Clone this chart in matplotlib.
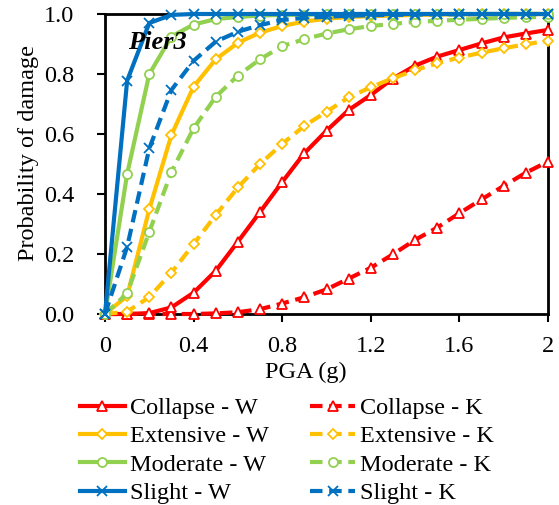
import matplotlib
matplotlib.use("Agg")
import matplotlib.pyplot as plt

plt.rcParams['font.family'] = ['Liberation Serif', 'DejaVu Serif']

pga = [0.0, 0.1, 0.2, 0.3, 0.4, 0.5, 0.6, 0.7, 0.8, 0.9, 1.0,
       1.1, 1.2, 1.3, 1.4, 1.5, 1.6, 1.7, 1.8, 1.9, 2.0]

collapse_w = [0.0, 0.0, 0.003, 0.022, 0.071, 0.144, 0.241, 0.34, 0.44, 0.536, 0.611,
              0.68, 0.73, 0.785, 0.828, 0.858, 0.88, 0.902, 0.922, 0.935, 0.947]
collapse_k = [0.0, 0.0, 0.0, 0.0, 0.0, 0.002, 0.006, 0.016, 0.035, 0.056, 0.082,
              0.118, 0.154, 0.199, 0.247, 0.288, 0.336, 0.382, 0.427, 0.471, 0.508]
extensive_w = [0.0, 0.06, 0.349, 0.597, 0.758, 0.849, 0.904, 0.938, 0.96, 0.975, 0.984,
               0.99, 0.993, 0.995, 0.997, 0.998, 0.999, 0.999, 1.0, 1.0, 1.0]
extensive_k = [0.0, 0.008, 0.056, 0.138, 0.233, 0.33, 0.422, 0.5, 0.567, 0.627, 0.674,
               0.722, 0.756, 0.786, 0.813, 0.836, 0.855, 0.871, 0.886, 0.899, 0.911]
moderate_w = [0.0, 0.467, 0.8, 0.925, 0.965, 0.983, 0.99, 0.995, 0.997, 0.998, 0.999,
              1.0, 1.0, 1.0, 1.0, 1.0, 1.0, 1.0, 1.0, 1.0, 1.0]
moderate_k = [0.0, 0.069, 0.274, 0.474, 0.619, 0.724, 0.795, 0.849, 0.893, 0.916, 0.935,
              0.949, 0.96, 0.967, 0.974, 0.977, 0.981, 0.984, 0.987, 0.989, 0.991]
slight_w = [0.0, 0.778, 0.97, 0.997, 1.0, 1.0, 1.0, 1.0, 1.0, 1.0, 1.0,
            1.0, 1.0, 1.0, 1.0, 1.0, 1.0, 1.0, 1.0, 1.0, 1.0]
slight_k = [0.0, 0.224, 0.552, 0.747, 0.844, 0.908, 0.941, 0.963, 0.98, 0.987, 0.991,
            0.994, 0.996, 0.997, 0.998, 0.999, 0.999, 1.0, 1.0, 1.0, 1.0]

labels_w = ['Collapse - W', 'Extensive - W', 'Moderate - W', 'Slight - W']
labels_k = ['Collapse - K', 'Extensive - K', 'Moderate - K', 'Slight - K']
colors = ['#FF0000', '#FFC000', '#92D050', '#0070C0']
markers = ['^', 'D', 'o', 'x']
msizes = [7, 5, 6.5, 6.5]

FS = 17.5

fig = plt.figure(figsize=(5.59, 5.05), dpi=100)
ax = fig.add_axes([105/559, 1-314/505, (548-105)/559, 300/505])

series_w = [collapse_w, extensive_w, moderate_w, slight_w]
series_k = [collapse_k, extensive_k, moderate_k, slight_k]

handles_w, handles_k = [], []
for i in range(4):
    mk = markers[i]
    mfc = 'white' if mk != 'x' else colors[i]
    hk, = ax.plot(pga, series_k[i], color=colors[i], lw=3, dashes=(3, 1.6),
                  marker=mk, ms=msizes[i], mfc=mfc, mec=colors[i], mew=1.3,
                  clip_on=False, zorder=3 + i, label=labels_k[i])
    hw, = ax.plot(pga, series_w[i], color=colors[i], lw=3,
                  marker=mk, ms=msizes[i], mfc=mfc, mec=colors[i], mew=1.3,
                  clip_on=False, zorder=3 + i, label=labels_w[i])
    handles_w.append(hw)
    handles_k.append(hk)

ax.set_xlim(0, 2)
ax.set_ylim(0, 1)
ax.set_xticks([0, 0.4, 0.8, 1.2, 1.6, 2.0])
ax.set_xticklabels(['0', '0.4', '0.8', '1.2', '1.6', '2'])
ax.set_yticks([0, 0.2, 0.4, 0.6, 0.8, 1.0])
ax.set_yticklabels(['0.0', '0.2', '0.4', '0.6', '0.8', '1.0'])
ax.tick_params(direction='out', length=6, width=1.5, labelsize=FS)
ax.tick_params(axis='y', pad=16)
ax.tick_params(axis='x', pad=10)
for s in ax.spines.values():
    s.set_linewidth(2)
ax.set_xlabel('PGA (g)', fontsize=FS)
ax.xaxis.set_label_coords(0.454, -0.16)
ax.set_ylabel('Probability of damage', fontsize=FS)
ax.yaxis.set_label_coords(-0.15, 0.537)

ax.text(0.104, 0.905, 'Pier3', fontsize=19, fontweight='bold', fontstyle='italic',
        va='center', ha='left', zorder=10)

fig.legend(handles_w + handles_k, labels_w + labels_k, ncol=2,
           loc='upper left', bbox_to_anchor=(80/559, 1-397/505),
           frameon=False, fontsize=FS, borderpad=0, borderaxespad=0,
           handlelength=1.85, handletextpad=0.2, labelspacing=0.26,
           columnspacing=1.7)

fig.savefig('out.png', dpi=100)
